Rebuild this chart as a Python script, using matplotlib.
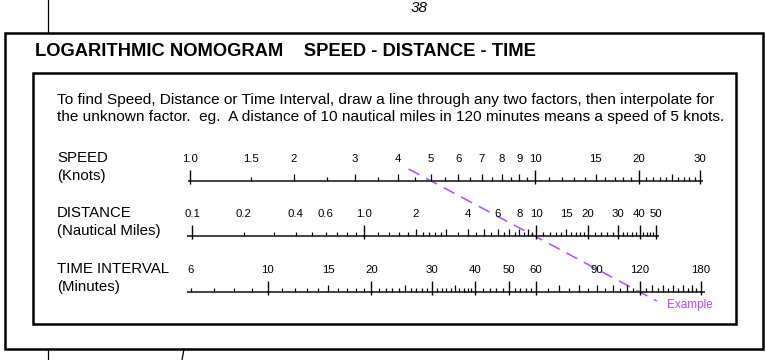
import numpy as np
import matplotlib
matplotlib.use("Agg")
import matplotlib.pyplot as plt
from matplotlib.patches import Rectangle

plt.rcParams['font.family'] = ['Liberation Sans', 'DejaVu Sans']

# ---- scale data ----
speed_labels = [1.0, 1.5, 2, 3, 4, 5, 6, 7, 8, 9, 10, 15, 20, 30]
speed_label_txt = ["1.0", "1.5", "2", "3", "4", "5", "6", "7", "8", "9", "10", "15", "20", "30"]
speed_major = [1, 10, 20, 30]
speed_mid = [2, 3, 4, 5, 6, 7, 8, 9, 15, 25]
speed_minor = [1.5, 2.5, 3.5, 4.5, 5.5, 6.5, 7.5, 8.5, 9.5,
               11, 12, 13, 14, 16, 17, 18, 19,
               21, 22, 23, 24, 26, 27, 28, 29]

dist_labels = [0.1, 0.2, 0.4, 0.6, 1.0, 2, 4, 6, 8, 10, 15, 20, 30, 40, 50]
dist_label_txt = ["0.1", "0.2", "0.4", "0.6", "1.0", "2", "4", "6", "8", "10", "15", "20", "30", "40", "50"]
dist_major = [0.1, 1, 10, 20, 30, 40, 50]
dist_mid = [2, 3, 4, 5, 6, 7, 8, 9, 15]
dist_minor = [0.2, 0.3, 0.4, 0.5, 0.6, 0.7, 0.8, 0.9,
              1.2, 1.4, 1.6, 1.8, 2.2, 2.4, 2.6, 2.8,
              3.5, 4.5, 5.5, 6.5, 7.5, 8.5, 9.5,
              11, 12, 13, 14, 16, 17, 18, 19,
              22, 24, 26, 28, 32, 34, 36, 38, 42, 44, 46, 48]

time_labels = [6, 10, 15, 20, 30, 40, 50, 60, 90, 120, 180]
time_major = [10, 20, 30, 40, 50, 60, 120, 180]
time_mid = [15, 25, 35, 70, 80, 90, 100, 110, 130, 140, 150, 160, 170]
time_minor = [6, 7, 8, 9, 11, 12, 13, 14, 16, 17, 18, 19,
              21, 22, 23, 24, 26, 27, 28, 29,
              31, 32, 33, 34, 36, 37, 38, 39,
              42, 44, 46, 48, 52, 54, 56, 58,
              65, 75, 85, 95, 105, 115, 125, 135, 145, 155, 165, 175]

# example: 10 nautical miles in 120 minutes -> 5 knots
ex_speed, ex_dist, ex_time = 5, 10, 120

W, H = 766, 360
fig = plt.figure(figsize=(W / 100, H / 100), dpi=100)
bg = fig.add_axes([0, 0, 1, 1])
bg.set_xlim(0, W)
bg.set_ylim(H, 0)
bg.axis('off')

purple = '#b34cf2'
body_fs = 11.05

# page decorations
bg.plot([48, 48], [0, 33], color='black', lw=0.9)
bg.plot([48, 48], [349, 360], color='black', lw=0.9)
bg.plot([184, 182], [349, 360], color='black', lw=0.9)
bg.text(419, 8, "38", ha='center', va='center', fontsize=11, style='italic')

bg.add_patch(Rectangle((5, 33), 758, 316, fill=False, lw=1.8, ec='black'))
bg.add_patch(Rectangle((33, 73), 703, 251, fill=False, lw=1.8, ec='black'))

bg.text(35, 52, "LOGARITHMIC NOMOGRAM    SPEED - DISTANCE - TIME",
        ha='left', va='center', fontsize=13.2, fontweight='bold')
bg.text(57, 100, "To find Speed, Distance or Time Interval, draw a line through any two factors, then interpolate for",
        ha='left', va='center', fontsize=body_fs)
bg.text(57, 117, "the unknown factor.  eg.  A distance of 10 nautical miles in 120 minutes means a speed of 5 knots.",
        ha='left', va='center', fontsize=body_fs)

names = [("SPEED", "(Knots)", 158), ("DISTANCE", "(Nautical Miles)", 213),
         ("TIME INTERVAL", "(Minutes)", 269)]
for top, bottom, y in names:
    bg.text(57, y, top, ha='left', va='center', fontsize=10.8)
    bg.text(57, y + 18, bottom, ha='left', va='center', fontsize=10.8)


def scale_axes(y_px, v0, x0, ppd, x_left, x_right):
    ax = fig.add_axes([x_left / W, (H - y_px - 25) / H, (x_right - x_left) / W, 50 / H])
    ax.set_xscale('log')
    ax.set_xlim(v0 * 10 ** ((x_left - x0) / ppd), v0 * 10 ** ((x_right - x0) / ppd))
    ax.set_ylim(-25, 25)
    ax.axis('off')
    return ax


def draw_scale(ax, major, mid, minor, labels, label_txt):
    lo, hi = ax.get_xlim()
    ax.plot([lo, hi], [0, 0], color='#333333', lw=1.3, solid_capstyle='butt')
    ax.vlines(major, -3, 11, color='black', lw=1.0)
    ax.vlines(mid, 0, 7, color='black', lw=0.9)
    ax.vlines(minor, 0, 4, color='black', lw=0.9)
    for v, t in zip(labels, label_txt):
        ax.text(v, 22, t, ha='center', va='center', fontsize=8.2, clip_on=False)


ax_s = scale_axes(181, 1, 190, 345, 188, 703)
draw_scale(ax_s, speed_major, speed_mid, speed_minor, speed_labels, speed_label_txt)

ax_d = scale_axes(236, 1, 364, 172, 187, 659)
draw_scale(ax_d, dist_major, dist_mid, dist_minor, dist_labels, dist_label_txt)

ax_t = scale_axes(292, 60, 536, 345, 187, 705)
draw_scale(ax_t, time_major, time_mid, time_minor, time_labels, [str(v) for v in time_labels])

# example line through the three scales
inv = bg.transData.inverted()
p1 = inv.transform(ax_s.transData.transform((ex_speed, 0)))
p3 = inv.transform(ax_t.transData.transform((ex_time, 0)))
slope = (p3[0] - p1[0]) / (p3[1] - p1[1])
ya, yb = 169, 301
xa = p1[0] + (ya - p1[1]) * slope
xb = p3[0] + (yb - p3[1]) * slope
bg.plot([xa, xb], [ya, yb], color=purple, lw=1.1, dashes=(8, 5))
bg.text(667, 305, "Example", ha='left', va='center', fontsize=8.5, color=purple)

fig.savefig("out.png", dpi=100)
